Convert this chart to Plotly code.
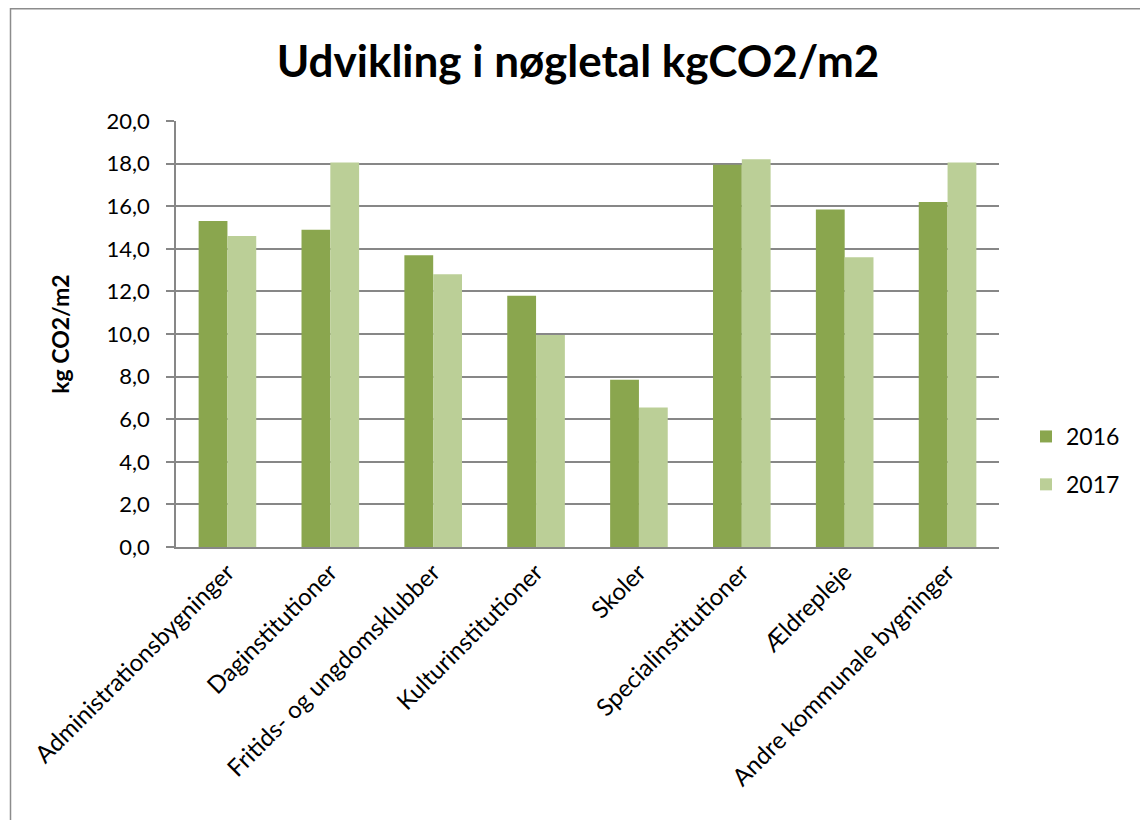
import plotly.graph_objects as go

categories = ["Administrationsbygninger", "Daginstitutioner", "Fritids- og ungdomsklubber",
              "Kulturinstitutioner", "Skoler", "Specialinstitutioner", "Ældrepleje",
              "Andre kommunale bygninger"]
values_2016 = [15.3, 14.9, 13.7, 11.8, 7.85, 17.95, 15.85, 16.2]
values_2017 = [14.6, 18.05, 12.8, 9.95, 6.55, 18.2, 13.6, 18.05]
y_ticks = [0, 2, 4, 6, 8, 10, 12, 14, 16, 18, 20]

FONT = "Lato"
fig = go.Figure()
fig.add_trace(go.Bar(name="2016", x=categories, y=values_2016, marker_color="#8aa64e",
                     marker_line_width=0, legendgroup="a"))
fig.add_trace(go.Bar(name="2017", x=categories, y=values_2017, marker_color="#bbcf97",
                     marker_line_width=0, legendgroup="b"))

L, R, T, B = 176, 141, 121, 273
W, H = 1140, 820
pw, ph = W - L - R, H - T - B

def px2paper_x(px):
    return (px - L) / pw

def px2paper_y(py):
    return 1 - (py - T) / ph

fig.update_layout(
    width=W, height=H,
    margin=dict(l=L, r=R, t=T, b=B, autoexpand=False),
    paper_bgcolor="white", plot_bgcolor="white",
    separators=",.",
    barmode="group", bargap=0.44, bargroupgap=0,
    font=dict(family=FONT, color="black", size=20),
    title=dict(text="<b>Udvikling i nøgletal kgCO2/m2</b>", x=0.507, xanchor="center",
               y=1 - 62 / H, yanchor="middle", font=dict(size=44, family=FONT)),
    xaxis=dict(tickangle=-45, showline=True, linecolor="#878787", linewidth=1.5,
               ticks="", showgrid=False, tickfont=dict(size=24)),
    yaxis=dict(range=[0, 20], tickvals=y_ticks, tickformat=".1f", showline=True,
               linecolor="#878787", linewidth=1.5, ticks="outside", ticklen=8,
               tickcolor="#878787", tickwidth=1.5, gridcolor="#878787", gridwidth=1.5,
               tickfont=dict(size=22), ticklabelstandoff=12,
               title=dict(text="<b>kg CO2/m2</b>", font=dict(size=23), standoff=31)),
    legend=dict(x=px2paper_x(1026), xanchor="left", y=px2paper_y(415), yanchor="top",
                traceorder="grouped", tracegroupgap=15, font=dict(size=23),
                bgcolor="rgba(0,0,0,0)"),
    shapes=[dict(type="rect", xref="paper", yref="paper",
                 x0=px2paper_x(10.5), x1=px2paper_x(1150),
                 y0=px2paper_y(830), y1=px2paper_y(8.7),
                 line=dict(color="#8c8c8c", width=1.5), fillcolor="rgba(0,0,0,0)",
                 layer="below")],
)

fig.write_html("out.html")
